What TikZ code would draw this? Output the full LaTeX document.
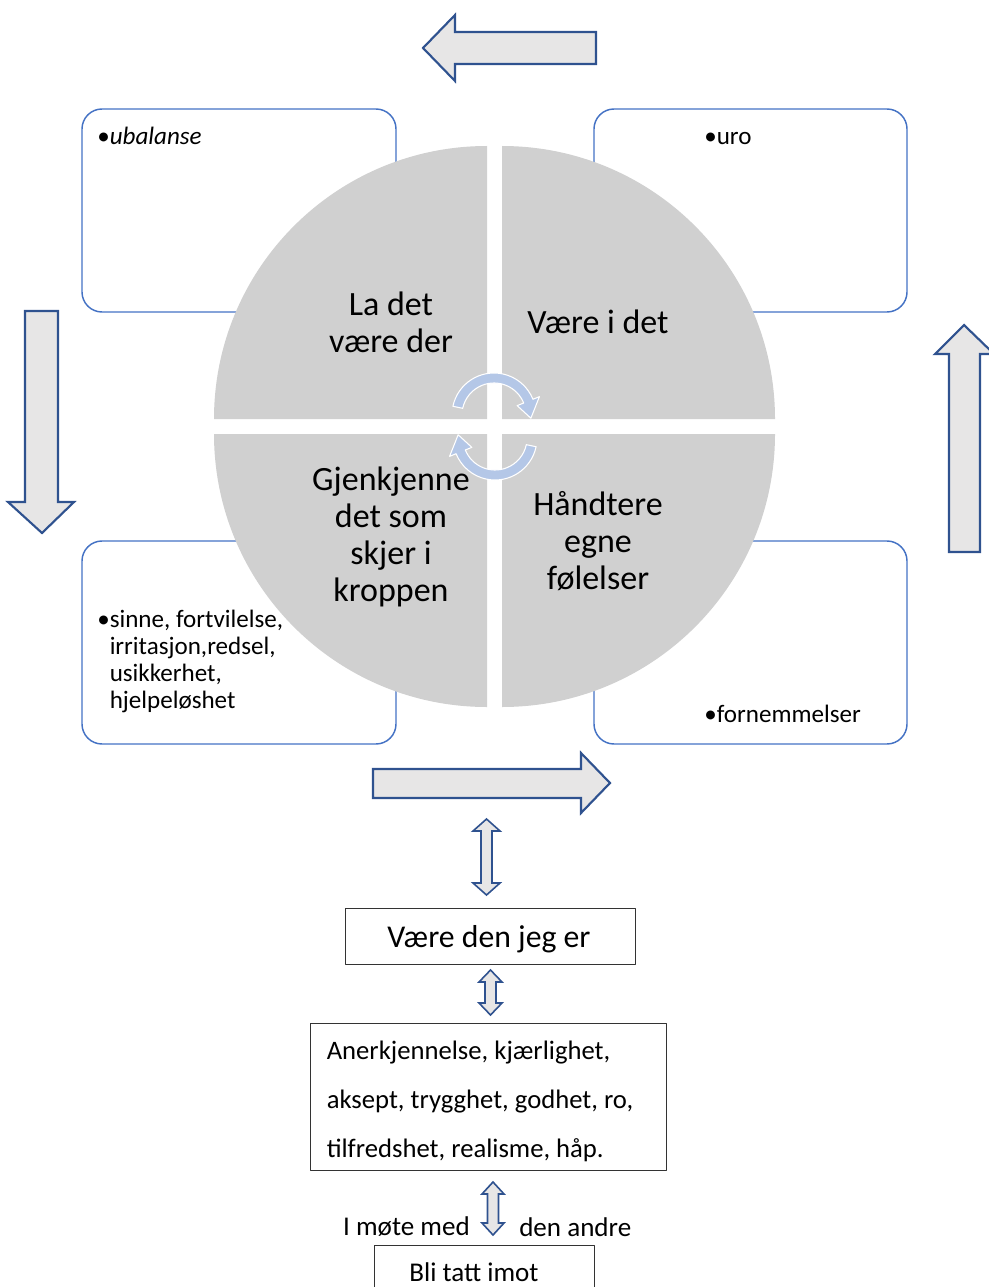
\documentclass[tikz,border=0pt]{standalone}
\usepackage{fontspec}
\setmainfont{Carlito}
\definecolor{sectorgray}{RGB}{208,208,208}
\definecolor{arrowfill}{RGB}{231,230,230}
\definecolor{arrowline}{RGB}{47,82,143}
\definecolor{boxblue}{RGB}{68,114,196}
\definecolor{cyclefill}{RGB}{180,199,231}
\begin{document}
\begin{tikzpicture}[x=0.75pt, y=-0.75pt, line join=round,
    blockarrow/.style={fill=arrowfill, draw=arrowline, line width=1.6pt, line join=miter},
    softbox/.style={draw=boxblue, line width=1.1pt, rounded corners=15pt},
    sector/.style={fill=sectorgray},
    cyclearrow/.style={fill=cyclefill, draw=white, line width=0.8pt},
    quadtext/.style={align=center, inner sep=0pt, font=\fontsize{25.5}{27.75}\selectfont},
    bullettext/.style={align=left, inner sep=0pt, font=\fontsize{18.8}{20.25}\selectfont},
    lowtext/.style={inner sep=0pt, font=\fontsize{20.3}{24}\selectfont},
    plainbox/.style={draw=black!80, line width=0.75pt}]
    \def\px{0.75pt} \def\r{273} % radius of the quarters
    \def\dblarrow#1#2#3#4{\draw[blockarrow, line width=1.2pt] (#1,#2) -- ({#1+#4},{#2+12})
        -- ({#1+5.5},{#2+12}) -- ({#1+5.5},{#3-12}) -- ({#1+#4},{#3-12}) -- (#1,#3)
        -- ({#1-#4},{#3-12}) -- ({#1-5.5},{#3-12}) -- ({#1-5.5},{#2+12}) -- ({#1-#4},{#2+12}) -- cycle;}
    \useasboundingbox (0,0) rectangle (988,1287);
    % the four boxes behind the circle
    \draw[softbox] (82,109) rectangle (396,312);
    \draw[softbox] (594,109) rectangle (907,312);
    \draw[softbox] (82,541) rectangle (396,744);
    \draw[softbox] (594,541) rectangle (907,744);
    % big arrows round the cycle
    \draw[blockarrow] (596,32) -- (455,32) -- (455,15) -- (423,48) -- (455,81) -- (455,64) -- (596,64) -- cycle;
    \draw[blockarrow] (25,311) -- (58,311) -- (58,502) -- (74,502) -- (42,533) -- (8,502) -- (25,502) -- cycle;
    \draw[blockarrow] (949,552) -- (949,354) -- (935,354) -- (964,325) -- (994,354) -- (980,354) -- (980,552) -- cycle;
    \draw[blockarrow] (373,769) -- (581,769) -- (581,753) -- (610,783) -- (581,813) -- (581,798) -- (373,798) -- cycle;
    % circle in four quarters
    \fill[sector] (487,419) -- ++(-\r,0) arc[start angle=180, end angle=270, radius=\r] -- cycle;
    \fill[sector] (502,419) -- ++(0,-\r) arc[start angle=270, end angle=360, radius=\r] -- cycle;
    \fill[sector] (487,434) -- ++(-\r,0) arc[start angle=180, end angle=90, radius=\r] -- cycle;
    \fill[sector] (502,434) -- ++(\r,0) arc[start angle=0, end angle=90, radius=\r] -- cycle;
    \node[quadtext] (ladet) at (391,322) {La det\\være der};
    \node[quadtext] (iddet) at (598,322) {Være i det};
    \node[quadtext] (gjenkjenne) at (391,537) {Gjenkjenne\\det som\\skjer i\\kroppen};
    \node[quadtext] (handtere) at (598,541) {Håndtere\\egne\\følelser};
    % small arrows in the middle
    \filldraw[cyclearrow, shift={(494,415)}] (192:42) arc[start angle=192, end angle=338, radius=42]
        -- (338:49) -- (5:37) -- (338:25) -- (338:32) arc[start angle=338, end angle=192, radius=32] -- cycle;
    \filldraw[cyclearrow, shift={(495,438)}] (12:42) arc[start angle=12, end angle=158, radius=42]
        -- (158:49) -- (185:37) -- (158:25) -- (158:32) arc[start angle=158, end angle=12, radius=32] -- cycle;
    % bullet texts
    \node[bullettext, anchor=base west] (ubalanse) at (97,145) {•\textit{ubalanse}};
    \node[bullettext, anchor=base west] (uro) at (704,145) {•uro};
    \node[bullettext, anchor=north west] (sinne) at (97,610) {•sinne, fortvilelse,\\\phantom{•}irritasjon,redsel,\\\phantom{•}usikkerhet,\\\phantom{•}hjelpeløshet};
    \node[bullettext, anchor=base west] (fornemmelser) at (704,722) {•fornemmelser};
    % lower part
    \dblarrow{486.5}{819}{895}{13.5}
    \node[plainbox, minimum width=290*\px, minimum height=56*\px] (jeger) at (490,936) {};
    \node[inner sep=0pt, font=\fontsize{23.8}{26}\selectfont] (jegertekst) at (489,939) {Være den jeg er};
    \dblarrow{490.5}{970}{1015}{11.5}
    \node[plainbox, minimum width=356*\px, minimum height=147*\px] (verdier) at (488,1096.5) {};
    \node[lowtext, align=left, anchor=west, font=\fontsize{20}{36.75}\selectfont] (verditekst)
        at ([xshift=17*\px, yshift=-5*\px]verdier.west) {Anerkjennelse, kjærlighet,\\aksept, trygghet, godhet, ro,\\tilfredshet, realisme, håp.};
    \dblarrow{493}{1182}{1235}{11}
    \node[lowtext, anchor=east] (motemed) at (470,1227) {I møte med};
    \node[lowtext, anchor=west] (andre) at (519,1227) {den andre};
    \node[plainbox, anchor=north, minimum width=220*\px, minimum height=56*\px] (imot) at (484,1245) {};
    \node[lowtext] (imottekst) at (474,1272) {Bli tatt imot};
\end{tikzpicture}
\end{document}
